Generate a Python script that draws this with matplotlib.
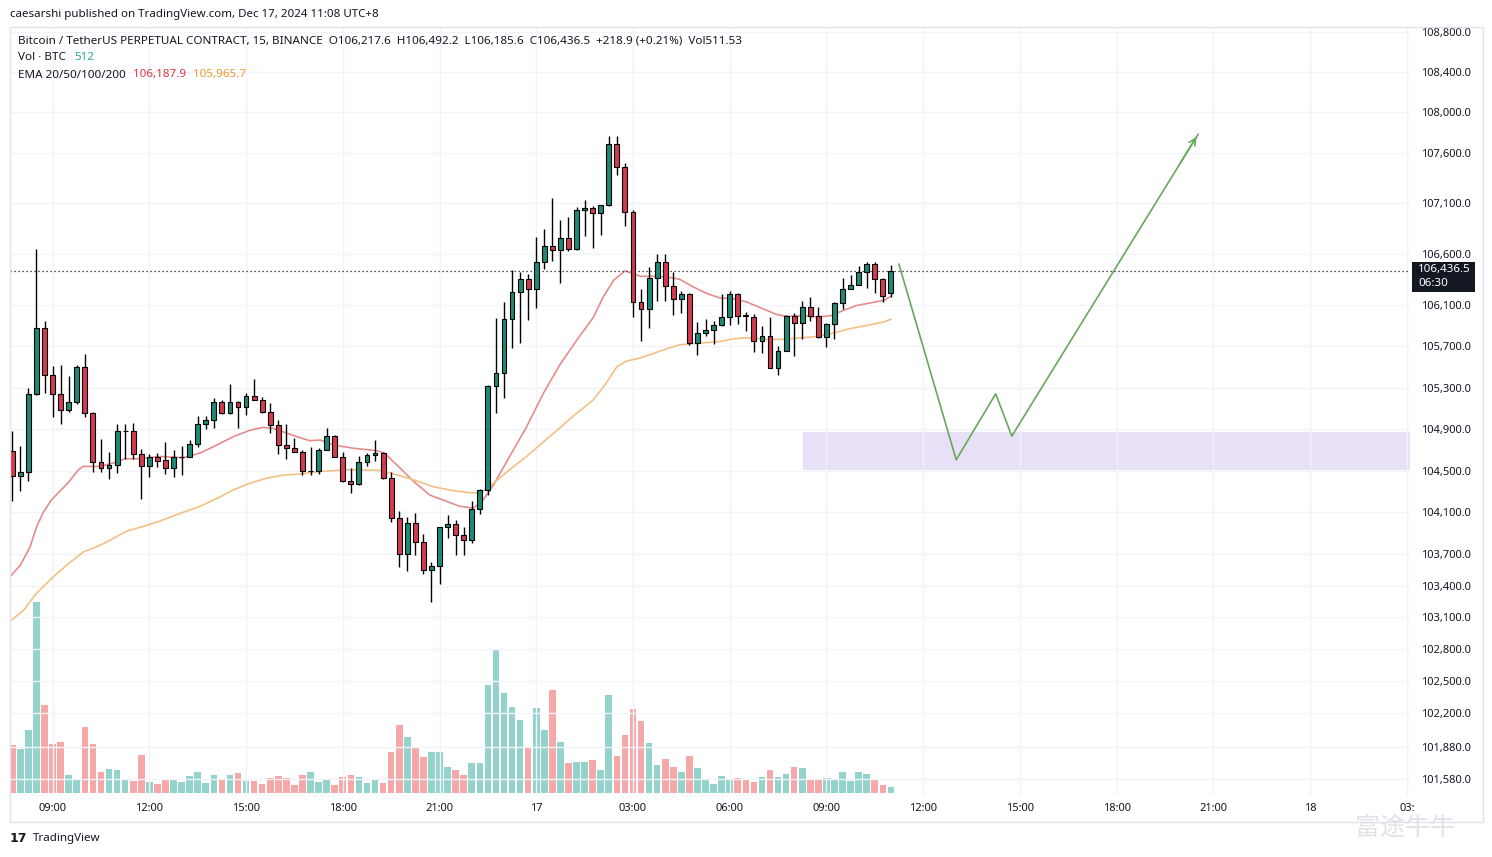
import matplotlib
matplotlib.use("Agg")
import matplotlib.pyplot as plt
from matplotlib.patches import Rectangle
from matplotlib.ticker import NullLocator, NullFormatter

# 15 min candles, BTCUSDT perp, 16 Dec 07:45 -> 17 Dec 11:00 (UTC+8)
opens = [104690, 104450, 104490, 105240, 105880, 105420, 105240, 105080, 105160, 105505,
         105060, 104580, 104530, 104555, 104880, 104885, 104660, 104545, 104630, 104600,
         104530, 104630, 104635, 104755, 104945, 104985, 105160, 105055, 105160, 105110,
         105220, 105180, 105070, 104940, 104745, 104715, 104680, 104497, 104500, 104700,
         104835, 104635, 104400, 104370, 104585, 104650, 104670, 104430, 104050, 103700,
         104000, 103820, 103547, 103585, 103964, 103992, 103888, 103840, 104136, 104318,
         105319, 105443, 105970, 106235, 106353, 106264, 106525, 106681, 106646, 106757,
         106656, 107038, 107058, 107009, 107080, 107687, 107460, 107019, 106133, 106067,
         106363, 106528, 106293, 106165, 106214, 105737, 105835, 105864, 105913, 105990,
         106214, 106005, 105990, 105757, 105805, 105490, 105659, 106000, 105932, 106087,
         106000, 105795, 105922, 106126, 106264, 106303, 106430, 106509, 106353, 106217.6]
highs = [104880, 104740, 105300, 106650, 105950, 105515, 105525, 105410, 105525, 105630,
         105065, 104805, 104680, 104950, 104950, 104960, 104710, 104660, 104670, 104780,
         104700, 104740, 104800, 105025, 105025, 105200, 105180, 105335, 105170, 105250,
         105380, 105210, 105150, 104990, 104945, 104815, 104700, 104725, 104715, 104915,
         104840, 104680, 104525, 104640, 104670, 104800, 104680, 104487, 104115, 104060,
         104095, 103895, 103630, 103965, 104078, 104030, 103964, 104207, 104320, 105326,
         105973, 106130, 106450, 106427, 106410, 106770, 106852, 107156, 106933, 106963,
         107064, 107136, 107070, 107082, 107760, 107760, 107502, 107038, 106264, 106477,
         106600, 106600, 106430, 106244, 106220, 105940, 105970, 105950, 106214, 106244,
         106220, 106040, 106020, 105903, 105990, 105707, 106010, 106030, 106146, 106185,
         106087, 105925, 106136, 106372, 106401, 106489, 106528, 106528, 106372, 106492.2]
lows = [104210, 104310, 104400, 105230, 105250, 105020, 104950, 105070, 105145, 105020,
        104490, 104490, 104420, 104480, 104615, 104615, 104230, 104435, 104540, 104470,
        104435, 104460, 104630, 104725, 104900, 104915, 105050, 105050, 104915, 105035,
        105180, 105055, 104865, 104660, 104610, 104675, 104455, 104460, 104470, 104695,
        104630, 104395, 104290, 104365, 104545, 104590, 104425, 104010, 103575, 103545,
        103690, 103515, 103250, 103420, 103860, 103697, 103697, 103810, 104088, 104270,
        105059, 105205, 105683, 105737, 105960, 106077, 106460, 106538, 106320, 106630,
        106646, 106780, 106662, 106789, 107075, 107383, 106878, 105985, 105753, 105880,
        106146, 106146, 106004, 106024, 105718, 105617, 105805, 105727, 105900, 105913,
        105922, 105855, 105650, 105640, 105488, 105419, 105655, 105612, 105776, 105950,
        105786, 105697, 105776, 106067, 106260, 106300, 106274, 106225, 106136, 106185.6]
closes = [104450, 104490, 105240, 105880, 105420, 105240, 105080, 105160, 105505, 105060,
          104580, 104530, 104555, 104880, 104885, 104660, 104545, 104630, 104595, 104530,
          104630, 104635, 104755, 104945, 104985, 105160, 105055, 105160, 105110, 105220,
          105180, 105070, 104940, 104745, 104715, 104680, 104497, 104500, 104700, 104835,
          104635, 104400, 104370, 104585, 104650, 104670, 104430, 104050, 103700, 104000,
          103820, 103547, 103585, 103964, 103992, 103888, 103840, 104136, 104318, 105319,
          105443, 105970, 106235, 106353, 106264, 106525, 106681, 106646, 106757, 106656,
          107038, 107058, 107009, 107080, 107687, 107460, 107019, 106133, 106067, 106363,
          106528, 106293, 106165, 106214, 105737, 105835, 105864, 105913, 105990, 106214,
          106000, 106000, 105757, 105805, 105490, 105659, 106000, 105932, 106087, 106000,
          105795, 105922, 106126, 106264, 106303, 106430, 106509, 106353, 106195, 106436.5]
volumes = [3670, 3370, 4810, 14540, 6710, 3750, 3900, 1390, 1090, 5040,
           3750, 1620, 1850, 1770, 1090, 930, 2910, 860, 710, 1010,
           1010, 860, 1310, 1620, 780, 1390, 1090, 1390, 1540, 930,
           930, 710, 1160, 1310, 1160, 630, 1440, 1600, 840, 1060,
           680, 1290, 1370, 1290, 760, 990, 760, 3120, 5170, 4330,
           3420, 2740, 3120, 3190, 1980, 1820, 1370, 2280, 2280, 8210,
           10870, 7600, 6610, 5550, 3570, 6460, 4790, 7830, 3880, 2280,
           2430, 2430, 2580, 1820, 7500, 2870, 4460, 6440, 5530, 3850,
           2180, 2640, 2030, 1650, 2870, 1950, 1040, 740, 1350, 1040,
           1190, 1040, 890, 1270, 1800, 1270, 1500, 2030, 1950, 1120,
           1120, 1190, 1040, 1650, 970, 1650, 1500, 1040, 660, 512]

# EMA lines (bar index, price)
ema20_x = [-0.3, 1.0, 2.2, 3.0, 3.85, 4.9, 6.95, 8.2, 8.8, 10.9, 12.5, 14.0, 15.8, 18.3, 21.2,
           23.3, 25.4, 27.4, 29.5, 31.1, 32.4, 33.6, 35.3, 36.9, 38.2, 39.8, 42.3, 45.2, 46.2,
           48.1, 49.8, 51.8, 53.5, 55.5, 57.2, 58.4, 59.7, 61.7, 63.8, 65.9, 67.9, 70.0, 72.1,
           73.3, 74.6, 76.0, 77.0, 77.9, 79.5, 81.2, 82.8, 84.5, 86.2, 87.8, 89.5, 91.1, 92.8,
           94.8, 96.1, 98.1, 99.8, 101.5, 103.1, 104.8, 106.4, 108.1, 109]
ema20_v = [103485, 103597, 103770, 103960, 104103, 104224, 104386, 104510, 104541, 104541,
           104574, 104615, 104615, 104637, 104625, 104670, 104748, 104827, 104890, 104917,
           104907, 104874, 104827, 104789, 104795, 104748, 104716, 104693, 104668, 104526,
           104396, 104266, 104217, 104159, 104142, 104217, 104363, 104637, 104922, 105248,
           105519, 105758, 105985, 106181, 106345, 106437, 106411, 106384, 106384, 106377,
           106355, 106279, 106215, 106172, 106166, 106133, 106078, 106012, 105993, 105999,
           105986, 105999, 106051, 106100, 106123, 106149, 106187.9]
ema50_x = [-0.3, 1.4, 3.0, 5.1, 6.75, 8.8, 10.9, 12.5, 14.2, 16.25, 18.3, 20.8, 23.3, 25.4,
           27.4, 29.5, 31.6, 33.6, 35.7, 38.2, 41.9, 45.6, 47.7, 49.8, 52.2, 54.7, 56.8, 58.0,
           59.7, 61.7, 63.8, 65.9, 67.9, 70.0, 72.1, 73.7, 75.0, 76.2, 77.9, 79.5, 81.2, 82.8,
           85.3, 87.8, 89.5, 91.1, 94.0, 95.7, 98.1, 99.8, 101.5, 103.9, 106.0, 108.1, 109]
ema50_v = [103063, 103168, 103329, 103487, 103597, 103722, 103786, 103850, 103922, 103967,
           104017, 104090, 104159, 104234, 104315, 104380, 104429, 104458, 104468, 104493,
           104510, 104503, 104461, 104412, 104347, 104308, 104289, 104283, 104380, 104510,
           104637, 104779, 104910, 105053, 105183, 105346, 105503, 105557, 105589, 105631,
           105678, 105717, 105732, 105749, 105775, 105785, 105766, 105771, 105785, 105798,
           105824, 105873, 105905, 105938, 105965.7]

# drawn projection and support zone
proj_x = [110.0, 117.1, 122.0, 124.0, 147.1]
proj_v = [106502, 104605, 105241, 104833, 107780]
zone_x0 = 98.1
zone_lo, zone_hi = 104510, 104871

price_ticks = [108800, 108400, 108000, 107600, 107100, 106600, 106100, 105700, 105300, 104900,
               104500, 104100, 103700, 103400, 103100, 102800, 102500, 102200, 101880, 101580]
time_idx = [5, 17, 29, 41, 53, 65, 77, 89, 101, 113, 125, 137, 149, 161, 173]
time_labels = ["09:00", "12:00", "15:00", "18:00", "21:00", "17", "03:00", "06:00", "09:00",
               "12:00", "15:00", "18:00", "21:00", "18", "03:"]

UP, DOWN = "#1d8a76", "#d23c4e"
VOL_UP, VOL_DOWN = "#93d3cc", "#f5a8a7"
TXT = "#131722"

W, H = 1492, 857
plt.rcParams['font.family'] = ['Noto Sans', 'DejaVu Sans']
fig = plt.figure(figsize=(W / 100, H / 100), dpi=100)


def fx(px):
    return px / W


def fy(py):
    return 1 - py / H


rect = [fx(10), fy(795), fx(1410) - fx(10), fy(27) - fy(795)]
axv = fig.add_axes(rect)
ax = fig.add_axes(rect, sharex=axv)
ax.patch.set_visible(False)

n = len(closes)
idx = list(range(n))
up = [c >= o for o, c in zip(opens, closes)]

# volume underneath
axv.bar(idx, volumes, width=0.82, color=[VOL_UP if u else VOL_DOWN for u in up], linewidth=0)
axv.set_ylim(-115, 58250)
axv.axis("off")

# candles
ax.vlines(idx, lows, highs, color="black", lw=1.0, zorder=3)
bottoms = [min(o, c) for o, c in zip(opens, closes)]
heights = [max(abs(c - o), 4) for o, c in zip(opens, closes)]
ax.bar(idx, heights, bottom=bottoms, width=0.6, color=[UP if u else DOWN for u in up],
       edgecolor="black", linewidth=0.8, zorder=4)

ax.plot(ema20_x, ema20_v, color="#e58c8c", lw=1.2, zorder=2)
ax.plot(ema50_x, ema50_v, color="#f4c084", lw=1.2, zorder=2)

ax.set_yscale("log")
ax.set_xlim(-0.285, 173.4)
ax.set_ylim(101431, 108850)

ax.fill_between([zone_x0, 173.4], zone_lo, zone_hi, color="#e7e0f6", lw=0, zorder=1)
ax.plot(proj_x, proj_v, color="#66a95a", lw=1.2, zorder=2)
ax.annotate("", xy=(proj_x[-1], proj_v[-1]),
            xytext=(proj_x[-2] + 0.9 * (proj_x[-1] - proj_x[-2]),
                    proj_v[-2] + 0.9 * (proj_v[-1] - proj_v[-2])),
            arrowprops=dict(arrowstyle="->", color="#66a95a", lw=1.2, mutation_scale=12))

ax.axhline(closes[-1], color=TXT, lw=0.9, ls=(0, (1, 2.2)), zorder=2)

# axes
ax.yaxis.tick_right()
ax.set_yticks(price_ticks)
ax.set_yticklabels([f"{v:,.1f}" for v in price_ticks])
ax.yaxis.set_minor_locator(NullLocator())
ax.yaxis.set_minor_formatter(NullFormatter())
ax.tick_params(axis="y", length=0, pad=8, labelsize=8, labelcolor=TXT)
ax.set_xticks(time_idx)
ax.set_xticklabels(time_labels)
for lab, t in zip(ax.get_xticklabels(), time_labels):
    if len(t) == 2:
        lab.set_fontweight("bold")
ax.tick_params(axis="x", length=0, pad=6, labelsize=8, labelcolor=TXT)
ax.grid(True, color="#f0f3fa", lw=1, zorder=0)
for s in ax.spines.values():
    s.set_visible(False)

# frame around the chart
fig.add_artist(Rectangle((fx(10), fy(822)), fx(1483) - fx(10), fy(27) - fy(822),
                         transform=fig.transFigure, fill=False, edgecolor="#e0e3eb", lw=1))

# last price label
yl = ax.transData.transform((0, closes[-1]))[1] / fig.bbox.height
fig.add_artist(Rectangle((fx(1412), yl - 21 / H), fx(1475) - fx(1412), 30 / H,
                         transform=fig.transFigure, facecolor=TXT, edgecolor="none"))
fig.text(fx(1418), yl + 1 / H, f"{closes[-1]:,.1f}", color="white", fontsize=8.3,
         fontweight="bold", va="center")
fig.text(fx(1418), yl - 13 / H, "06:30", color="white", fontsize=8.3, va="center")

# header texts
fig.text(fx(10), fy(14), "caesarshi published on TradingView.com, Dec 17, 2024 11:08 UTC+8",
         fontsize=8.3, color=TXT, va="center")
fig.text(fx(18), fy(41), "Bitcoin / TetherUS PERPETUAL CONTRACT, 15, BINANCE  O106,217.6  "
         "H106,492.2  L106,185.6  C106,436.5  +218.9 (+0.21%)  Vol511.53",
         fontsize=8.4, color=TXT, va="center")
fig.text(fx(18), fy(58), "Vol · BTC", fontsize=8.4, color=TXT, va="center")
fig.text(fx(74), fy(58), "512", fontsize=8.4, color="#26a69a", va="center")
fig.text(fx(18), fy(75), "EMA 20/50/100/200", fontsize=8.4, color=TXT, va="center")
fig.text(fx(133), fy(75), "106,187.9", fontsize=8.4, color="#e0323f", va="center")
fig.text(fx(193), fy(75), "105,965.7", fontsize=8.4, color="#f0962a", va="center")

# footer
fig.text(fx(10), fy(839), "17", fontsize=9, fontweight="bold", color=TXT, va="center",
         family="DejaVu Sans")
fig.text(fx(33), fy(839), "TradingView", fontsize=8.3, color=TXT, va="center")
fig.text(fx(1355), fy(828), "富途牛牛", fontsize=18, color="#dfe2e6", va="center",
         family=["Noto Sans CJK SC", "DejaVu Sans"])

fig.savefig("out.png", dpi=100)
